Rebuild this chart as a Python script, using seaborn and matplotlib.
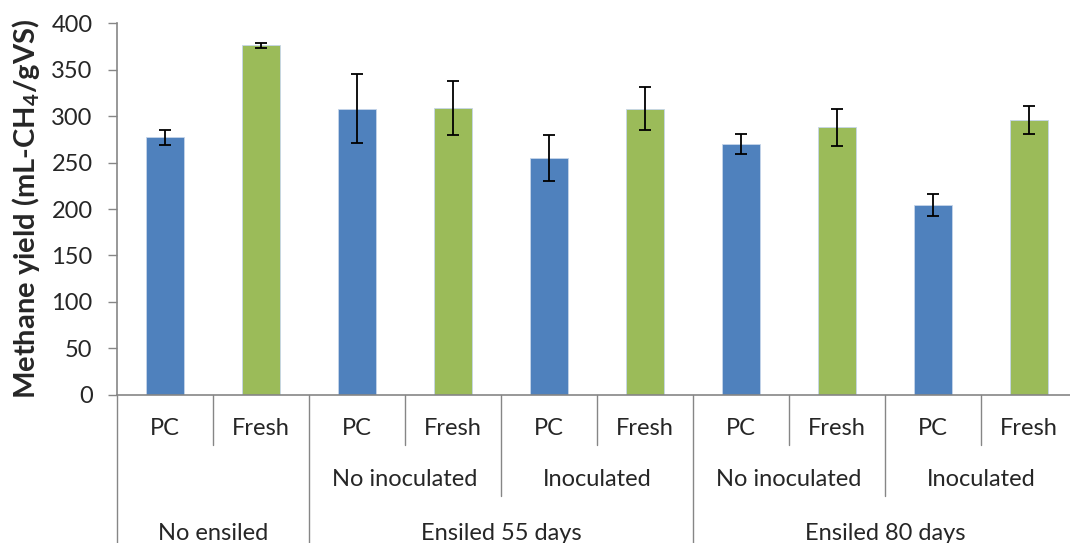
import numpy as np
import pandas as pd
import matplotlib
matplotlib.use("Agg")
import matplotlib.pyplot as plt
import matplotlib.transforms as mtransforms
import seaborn as sns

# data
treatments = ["PC", "Fresh", "PC", "Fresh", "PC", "Fresh", "PC", "Fresh", "PC", "Fresh"]
methane_yield = [277, 376, 308, 309, 255, 308, 270, 288, 204, 296]
yield_err = [8, 3, 37, 29, 25, 23, 11, 20, 12, 15]
inoculation_labels = ["No inoculated", "Inoculated", "No inoculated", "Inoculated"]
ensiling_labels = ["No ensiled", "Ensiled 55 days", "Ensiled 80 days"]

BLUE = "#4F81BD"
GREEN = "#9BBB59"
GRID_GRAY = "#868686"

sns.set_style("white")
plt.rcParams["font.family"] = ["Lato", "DejaVu Sans"]
plt.rcParams["mathtext.fontset"] = "custom"
plt.rcParams["mathtext.rm"] = "Lato"
plt.rcParams["mathtext.bf"] = "Lato:bold"


def build_frame():
    keys = [f"{t}_{i}" for i, t in enumerate(treatments)]
    return pd.DataFrame({"key": keys, "treatment": treatments, "yield": methane_yield})


def draw_bars(ax, df):
    palette = {k: (BLUE if t == "PC" else GREEN) for k, t in zip(df["key"], df["treatment"])}
    sns.barplot(data=df, x="key", y="yield", hue="key", palette=palette,
                width=0.4, legend=False, ax=ax, saturation=1,
                edgecolor="#c6d5ea", linewidth=0.6)
    centers = [p.get_x() + p.get_width() / 2 for p in ax.patches]
    ax.errorbar(centers, df["yield"], yerr=yield_err, fmt="none",
                ecolor="black", elinewidth=1.3, capsize=4.5, capthick=1.3)


def draw_category_axis(ax):
    trans = mtransforms.blended_transform_factory(ax.transData, ax.transAxes)
    line_kw = dict(color=GRID_GRAY, lw=1.0, transform=trans, clip_on=False)
    text_kw = dict(ha="center", va="center", fontsize=17, transform=trans, clip_on=False)

    row1, row2, row3, bottom = -0.089, -0.226, -0.372, -0.45
    n = len(treatments)
    for i in range(n + 1):
        xb = i - 0.5
        if i % 2 == 1:
            y_end = -0.134
        elif i in (0, 2, 6, 10):
            y_end = bottom
        else:
            y_end = -0.272
        ax.plot([xb, xb], [0, y_end], **line_kw)

    for i, t in enumerate(treatments):
        ax.text(i, row1, t, **text_kw)
    for j, lab in enumerate(inoculation_labels):
        ax.text(2 + 2 * j + 0.5, row2, lab, **text_kw)
    ax.text(0.5, row3, ensiling_labels[0], **text_kw)
    ax.text(3.5, row3, ensiling_labels[1], **text_kw)
    ax.text(7.5, row3, ensiling_labels[2], **text_kw)


def main():
    df = build_frame()
    fig = plt.figure(figsize=(10.7, 5.43), dpi=100)
    ax = fig.add_axes([0.1093, 0.2726, 0.8907, 0.685])

    draw_bars(ax, df)

    ax.set_ylim(0, 400)
    ax.set_yticks(np.arange(0, 401, 50))
    ax.set_xlim(-0.5, 9.427)
    ax.set_xlabel("")
    ax.set_ylabel("Methane yield (mL-CH$_\\mathbf{4}$/gVS)", fontsize=21,
                  fontweight="bold", labelpad=7)
    ax.tick_params(axis="x", bottom=False, labelbottom=False)
    ax.tick_params(axis="y", left=True, direction="out", length=6.5, width=1,
                   color=GRID_GRAY, labelsize=17, pad=11)

    for side in ("top", "right"):
        ax.spines[side].set_visible(False)
    for side in ("left", "bottom"):
        ax.spines[side].set_color(GRID_GRAY)
        ax.spines[side].set_linewidth(1.2)

    draw_category_axis(ax)

    fig.savefig("out.png", dpi=100)


if __name__ == "__main__":
    main()
